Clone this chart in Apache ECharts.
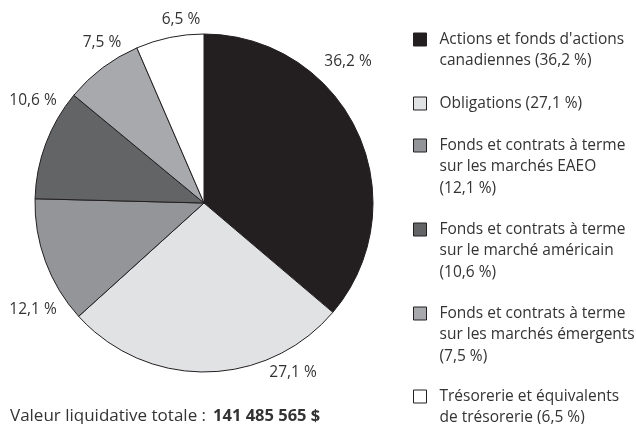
<!DOCTYPE html>
<html><head><meta charset="utf-8">
<script src="https://cdn.jsdelivr.net/npm/echarts@6/dist/echarts.min.js"></script>
<style>html,body{margin:0;padding:0;background:#fff}#c{width:636px;height:424px}</style>
</head><body><div id="c"></div>
<script>
const categories = [
  "Actions et fonds d'actions canadiennes",
  "Obligations",
  "Fonds et contrats à terme sur les marchés EAEO",
  "Fonds et contrats à terme sur le marché américain",
  "Fonds et contrats à terme sur les marchés émergents",
  "Trésorerie et équivalents de trésorerie"
];
const legendLines = [
  ["Actions et fonds d'actions", "canadiennes (36,2 %)"],
  ["Obligations (27,1 %)"],
  ["Fonds et contrats à terme", "sur les marchés EAEO", "(12,1 %)"],
  ["Fonds et contrats à terme", "sur le marché américain", "(10,6 %)"],
  ["Fonds et contrats à terme", "sur les marchés émergents", "(7,5 %)"],
  ["Trésorerie et équivalents", "de trésorerie (6,5 %)"]
];
const values = [36.2, 27.1, 12.1, 10.6, 7.5, 6.5];
const sliceLabels = ["36,2 %", "27,1 %", "12,1 %", "10,6 %", "7,5 %", "6,5 %"];
const totalLabel = "Valeur liquidative totale :";
const totalValue = "141 485 565 $";

// styling
const colors = ['#231f20', '#e1e2e4', '#939598', '#636466', '#a7a9ac', '#ffffff'];
const labelPos = [[348, 62], [293, 373], [33, 310], [33, 101], [102, 43], [181, 20]];
const legendIconTop = [33, 97, 139, 223, 307, 390];
const LH = 21.3;
const FS = 15.5;
const FONT = 'Open Sans';
const textColor = '#333';

const legends = categories.map((name, i) => {
  const n = legendLines[i].length;
  const iconH = 13;
  const top = legendIconTop[i] + iconH / 2 - (2 * n - 1) * LH / 2;
  const pad = new Array(n - 1).fill('');
  return {
    data: [name],
    orient: 'vertical',
    left: 413,
    top: top,
    padding: 0,
    itemWidth: 13,
    itemHeight: iconH,
    icon: 'rect',
    selectedMode: false,
    itemStyle: { borderColor: '#231f20', borderWidth: 1 },
    formatter: () => pad.concat(legendLines[i]).join('\n'),
    textStyle: {
      fontFamily: FONT, fontSize: FS, color: textColor, lineHeight: LH,
      padding: [0, 0, 0, 8]
    }
  };
});

const chart = echarts.init(document.getElementById('c'), null, { renderer: 'canvas' });
chart.setOption({
  animation: false,
  backgroundColor: '#fff',
  title: {
    left: 10, top: 408, padding: 0,
    text: '{a|' + totalLabel + '}{b|' + totalValue + '}',
    textStyle: {
      fontWeight: 'normal',
      rich: {
        a: { fontFamily: FONT, fontSize: 17, fontWeight: 'normal', color: textColor },
        b: { fontFamily: FONT, fontSize: 16.5, fontWeight: 'bold', color: textColor, padding: [0, 0, 0, 7] }
      }
    }
  },
  legend: legends,
  series: [{
    type: 'pie',
    center: [204, 203],
    radius: [0, 169],
    startAngle: 90,
    clockwise: true,
    avoidLabelOverlap: false,
    itemStyle: { borderColor: '#231f20', borderWidth: 1 },
    emphasis: { disabled: true },
    label: {
      show: true, position: 'outside',
      fontFamily: FONT, fontSize: FS, color: textColor,
      formatter: p => sliceLabels[p.dataIndex]
    },
    labelLine: { show: false },
    labelLayout: p => ({
      x: labelPos[p.dataIndex][0], y: labelPos[p.dataIndex][1],
      align: 'center', verticalAlign: 'middle'
    }),
    data: categories.map((name, i) => ({
      name: name, value: values[i], itemStyle: { color: colors[i] }
    }))
  }]
});
</script></body></html>
